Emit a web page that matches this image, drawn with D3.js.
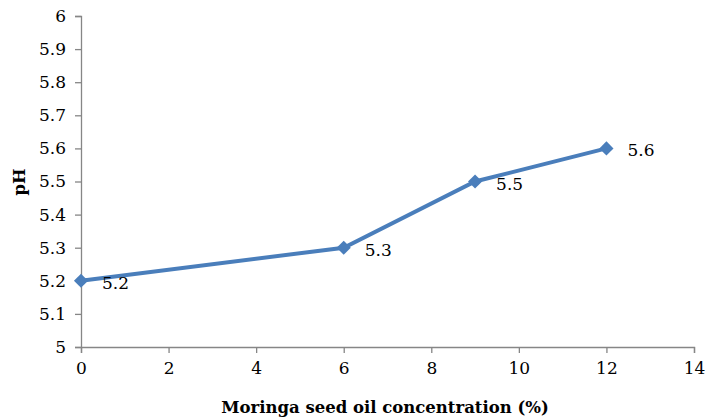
<!DOCTYPE html>
<html>
<head>
<meta charset="utf-8">
<script src="https://cdn.jsdelivr.net/npm/d3@7"></script>
<style>
  body { margin: 0; background: #fff; }
  svg text { font-family: "DejaVu Serif", serif; }
</style>
</head>
<body>
<div class="canvas"></div>
<script>
// data
const concentration = [0, 6, 9, 12];
const phValues = [5.2, 5.3, 5.5, 5.6];
const xTicks = [0, 2, 4, 6, 8, 10, 12, 14];
const yTicks = [5, 5.1, 5.2, 5.3, 5.4, 5.5, 5.6, 5.7, 5.8, 5.9, 6];

const width = 707, height = 417;
const margin = { left: 81, right: 13, top: 16, bottom: 70 };

const svg = d3.select(".canvas").append("svg")
    .attr("width", width)
    .attr("height", height);

const x = d3.scaleLinear().domain([0, 14]).range([margin.left, width - margin.right]);
const y = d3.scaleLinear().domain([5, 6]).range([height - margin.bottom, margin.top]);

const axisColor = "#868686";

// x axis
const xAxis = svg.append("g")
    .attr("transform", `translate(0, ${y(5)})`)
    .call(d3.axisBottom(x).tickValues(xTicks).tickSize(6).tickPadding(9).tickFormat(d3.format("d")));
xAxis.attr("font-family", null);
xAxis.select(".domain").attr("stroke", axisColor).attr("stroke-width", 1.3);
xAxis.selectAll(".tick line").attr("stroke", axisColor).attr("stroke-width", 1.3);
xAxis.selectAll(".tick text").attr("fill", "#000").style("font-size", "17px");

// y axis
const yAxis = svg.append("g")
    .attr("transform", `translate(${x(0)}, 0)`)
    .call(d3.axisLeft(y).tickValues(yTicks).tickSize(6).tickPadding(9).tickFormat(d => +d.toFixed(1)));
yAxis.attr("font-family", null);
yAxis.select(".domain").attr("stroke", axisColor).attr("stroke-width", 1.3);
yAxis.selectAll(".tick line").attr("stroke", axisColor).attr("stroke-width", 1.3);
yAxis.selectAll(".tick text").attr("fill", "#000").style("font-size", "17px");

const points = concentration.map((c, i) => ({ c: c, ph: phValues[i] }));

// line
svg.append("path")
    .datum(points)
    .attr("fill", "none")
    .attr("stroke", "#4a7ebb")
    .attr("stroke-width", 4)
    .attr("d", d3.line().x(d => x(d.c)).y(d => y(d.ph)));

// diamond markers
svg.selectAll(".marker")
    .data(points)
    .enter().append("path")
    .attr("class", "marker")
    .attr("transform", d => `translate(${x(d.c)}, ${y(d.ph)}) rotate(45)`)
    .attr("d", d3.symbol().type(d3.symbolSquare).size(100))
    .attr("fill", "#4a7ebb");

// data labels
svg.selectAll(".label")
    .data(points)
    .enter().append("text")
    .attr("x", d => x(d.c) + 21)
    .attr("y", d => y(d.ph) + 8)
    .attr("fill", "#000")
    .style("font-size", "17px")
    .text(d => d.ph);

// axis titles
svg.append("text")
    .attr("x", 385)
    .attr("y", 413)
    .attr("text-anchor", "middle")
    .style("font-size", "16.5px")
    .style("font-weight", "bold")
    .text("Moringa seed oil concentration (%)");

svg.append("text")
    .attr("transform", "translate(25, 182) rotate(-90)")
    .attr("text-anchor", "middle")
    .style("font-size", "16.5px")
    .style("font-weight", "bold")
    .text("pH");
</script>
</body>
</html>
